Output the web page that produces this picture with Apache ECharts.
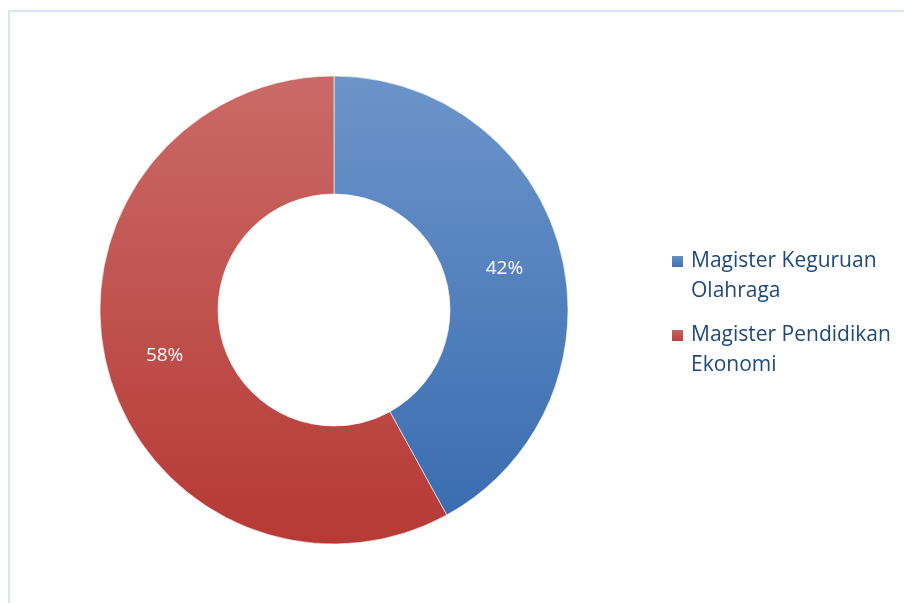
<!DOCTYPE html>
<html>
<head>
<meta charset="utf-8">
<script src="https://cdn.jsdelivr.net/npm/echarts@6/dist/echarts.min.js"></script>
<style>
html,body{margin:0;padding:0;background:#fff;}
#chart{width:904px;height:603px;}
</style>
</head>
<body>
<div id="chart"></div>
<script>
var categories = ['Magister Keguruan\nOlahraga', 'Magister Pendidikan\nEkonomi'];
var values = [42, 58];
var topColors = ['#6C94C9', '#CA6A66'];
var bottomColors = ['#3A6DB1', '#B63935'];
var labelNudge = [[-2, 3], [3, 1]];

var chart = echarts.init(document.getElementById('chart'));
var data = categories.map(function (c, i) {
  return {
    name: c,
    value: values[i],
    label: {offset: labelNudge[i]},
    itemStyle: {
      color: new echarts.graphic.LinearGradient(0, 0, 0, 1, [
        {offset: 0, color: topColors[i]},
        {offset: 1, color: bottomColors[i]}
      ])
    }
  };
});
chart.setOption({
  animation: false,
  graphic: [{
    type: 'rect',
    shape: {x: 9, y: 11, width: 1000, height: 1000},
    style: {fill: 'none', stroke: '#D9E4F4', lineWidth: 2},
    silent: true
  }],
  legend: {
    orient: 'vertical',
    left: 665,
    top: 216,
    itemWidth: 13,
    itemHeight: 13,
    itemGap: -7,
    icon: 'rect',
    formatter: function (name) {
      var parts = name.split('\n');
      return '{e|}\n{a|' + parts[0] + '}\n{a|' + parts[1] + '}';
    },
    textStyle: {
      fontFamily: 'Open Sans',
      fontSize: 21,
      color: '#1F497D',
      rich: {
        e: {lineHeight: 30, fontSize: 21, fontFamily: 'Open Sans'},
        a: {lineHeight: 30, fontSize: 21, fontFamily: 'Open Sans', color: '#1F497D', padding: [0, 0, 0, 2]}
      }
    },
    data: data.map(function (d) { return {name: d.name, itemStyle: {color: d.itemStyle.color}}; })
  },
  series: [{
    type: 'pie',
    center: [334, 310],
    radius: [116, 234],
    startAngle: 90,
    clockwise: true,
    label: {
      show: true,
      position: 'inside',
      formatter: function (p) { return p.value + '%'; },
      color: '#fff',
      fontFamily: 'Open Sans',
      fontSize: 19
    },
    labelLine: {show: false},
    itemStyle: {borderColor: '#ffffff', borderWidth: 0.6},
    emphasis: {disabled: true},
    data: data
  }]
});
</script>
</body>
</html>
